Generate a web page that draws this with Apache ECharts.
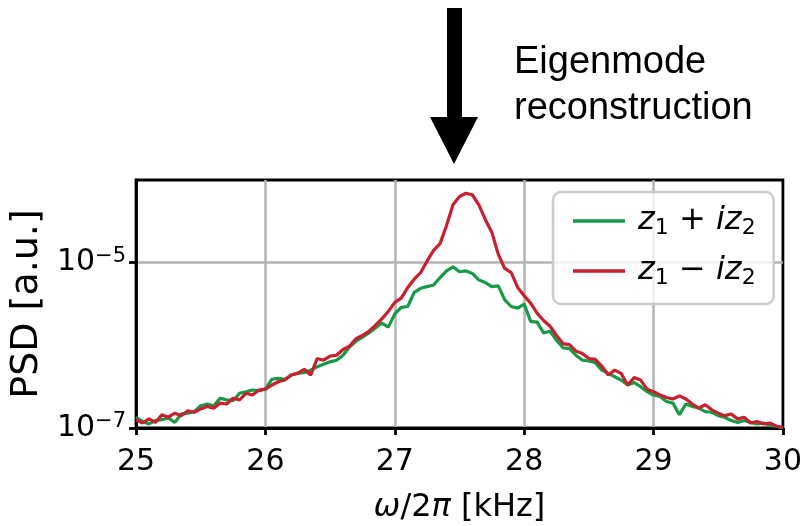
<!DOCTYPE html>
<html>
<head>
<meta charset="utf-8">
<script src="https://cdn.jsdelivr.net/npm/echarts@6/dist/echarts.min.js"></script>
<style>
  html, body { margin: 0; padding: 0; background: #fff; }
  #chart { width: 805px; height: 526px; }
</style>
</head>
<body>
<div id="chart"></div>
<script>
// Frequency sampling (kHz): 25.00 … 30.00 in 0.05 steps
const FREQ_START = 25;
const FREQ_STEP = 0.05;

// PSD values, in units of 1e-7 a.u.
const psdPlus = [
  1.35, 1.20, 1.12, 1.23, 1.26, 1.32, 1.17, 1.48, 1.51, 1.58,
  1.86, 1.95, 1.86, 2.29, 2.19, 2.14, 2.63, 2.75, 2.88, 2.82,
  2.95, 3.89, 3.98, 3.89, 4.37, 4.62, 4.68, 5.01, 5.50, 5.89,
  6.31, 6.61, 7.59, 9.55, 11.2, 12.6, 14.1, 16.2, 18.6, 16.6,
  24.0, 28.8, 29.5, 43.7, 49.0, 51.3, 53.7, 66.1, 79.4, 89.1,
  77.6, 79.4, 74.1, 61.7, 57.5, 51.3, 52.5, 35.5, 29.5, 28.2,
  31.6, 19.5, 19.1, 14.1, 14.8, 11.5, 9.33, 9.12, 7.59, 6.61,
  6.46, 6.17, 5.01, 4.57, 4.17, 3.80, 3.31, 3.55, 3.16, 2.75,
  2.51, 2.40, 2.09, 2.00, 1.45, 1.95, 1.82, 1.74, 1.58, 1.55,
  1.41, 1.35, 1.23, 1.17, 1.23, 1.17, 1.12, 1.15, 1.07, 1.05,
  1.00
];
const psdMinus = [
  1.26, 1.15, 1.29, 1.17, 1.45, 1.35, 1.51, 1.41, 1.62, 1.55,
  1.70, 1.82, 1.74, 2.00, 1.95, 2.29, 2.19, 2.63, 2.51, 2.88,
  2.95, 3.31, 3.63, 3.80, 4.37, 4.57, 5.13, 4.37, 6.92, 6.61,
  7.41, 7.59, 8.91, 9.77, 12.0, 13.2, 14.8, 17.4, 20.9, 25.7,
  33.1, 37.2, 50.1, 63.1, 75.9, 105, 141, 170, 282, 501,
  631, 692, 661, 501, 331, 234, 126, 85.1, 75.9, 50.1,
  39.8, 32.4, 24.5, 20.0, 17.0, 13.2, 10.5, 10.2, 8.51, 7.94,
  6.92, 6.76, 5.62, 4.37, 5.01, 4.57, 3.31, 4.07, 3.80, 2.95,
  2.75, 2.51, 2.34, 2.24, 2.45, 2.24, 1.95, 1.74, 1.91, 1.66,
  1.51, 1.41, 1.48, 1.29, 1.35, 1.15, 1.20, 1.12, 1.15, 1.05,
  1.02
];
const PSD_UNIT = 1e-7;

const seriesNames = ['z1 + iz2', 'z1 - iz2'];
const seriesColors = ['#179a45', '#c9202f'];
const xTicks = [25, 26, 27, 28, 29, 30];
const yTickExponents = [-7, -5];

const toPairs = vals => vals.map((v, i) => [+(FREQ_START + i * FREQ_STEP).toFixed(2), v * PSD_UNIT]);

const FONT = '"DejaVu Sans", sans-serif';
const chart = echarts.init(document.getElementById('chart'), null, { renderer: 'canvas' });

const legendText = {
  'z1 + iz2': '{it|z}{sub|1}{n| + }{it|iz}{sub|2}',
  'z1 - iz2': '{it|z}{sub|1}{n| − }{it|iz}{sub|2}'
};

chart.setOption({
  animation: false,
  backgroundColor: '#fff',
  grid: {
    left: 133, right: 22, top: 180, bottom: 98,
    show: true, borderColor: '#000', borderWidth: 2.8, backgroundColor: 'transparent'
  },
  xAxis: {
    type: 'value',
    min: xTicks[0], max: xTicks[xTicks.length - 1], interval: 1,
    name: '{it|ω}/2{it|π} [kHz]',
    nameLocation: 'middle', nameGap: 64,
    nameTextStyle: {
      fontFamily: FONT, fontSize: 32, color: '#000',
      rich: { it: { fontFamily: FONT, fontStyle: 'italic', fontSize: 32, color: '#000' } }
    },
    axisLine: { show: true, lineStyle: { color: '#000', width: 2.8 } },
    axisTick: { show: true, length: 7, lineStyle: { color: '#000', width: 2.8 } },
    axisLabel: { fontFamily: FONT, fontSize: 30, color: '#000', margin: 19 },
    splitLine: { show: true, showMinLine: false, showMaxLine: false, lineStyle: { color: '#b3b3b3', width: 2.5 } }
  },
  yAxis: {
    type: 'log', logBase: 10,
    min: 1e-7, max: 1e-4, interval: 2,
    name: 'PSD [a.u.]',
    nameLocation: 'middle', nameGap: 84, nameRotate: 90,
    nameTextStyle: { fontFamily: FONT, fontSize: 38, color: '#000' },
    axisLine: { show: true, lineStyle: { color: '#000', width: 2.8 } },
    axisTick: { show: true, length: 7, lineStyle: { color: '#000', width: 2.8 } },
    axisLabel: {
      margin: 10,
      showMaxLabel: false,
      formatter: v => {
        const e = Math.round(Math.log10(v));
        if (Math.abs(Math.log10(v) - e) > 1e-6 || yTickExponents.indexOf(e) < 0) return '';
        return '{b|10}{s|−' + (-e) + '}';
      },
      rich: {
        b: { fontFamily: FONT, fontSize: 30, color: '#000', lineHeight: 34 },
        s: { fontFamily: FONT, fontSize: 21, color: '#000', verticalAlign: 'top', lineHeight: 22 }
      }
    },
    splitLine: { show: true, showMinLine: false, showMaxLine: false, lineStyle: { color: '#b3b3b3', width: 2.5 } }
  },
  legend: {
    data: seriesNames,
    orient: 'vertical',
    left: 553, top: 192,
    padding: [13, 18, 15, 20],
    icon: 'rect',
    itemWidth: 52, itemHeight: 3.5, itemGap: 16,
    backgroundColor: 'rgba(255,255,255,0.8)',
    borderColor: '#cccccc', borderWidth: 2.5, borderRadius: 8,
    formatter: name => legendText[name],
    textStyle: {
      fontFamily: FONT, fontSize: 32, color: '#000', padding: [0, 0, 0, 8],
      rich: {
        it: { fontFamily: FONT, fontStyle: 'italic', fontSize: 32, color: '#000', lineHeight: 36 },
        n: { fontFamily: FONT, fontSize: 32, color: '#000', lineHeight: 36 },
        sub: { fontFamily: FONT, fontSize: 22, color: '#000', lineHeight: 26, verticalAlign: 'bottom' }
      }
    }
  },
  series: [
    {
      name: seriesNames[0], type: 'line', data: toPairs(psdPlus),
      showSymbol: false, symbol: 'none',
      lineStyle: { color: seriesColors[0], width: 3.2 }, itemStyle: { color: seriesColors[0] },
      z: 3
    },
    {
      name: seriesNames[1], type: 'line', data: toPairs(psdMinus),
      showSymbol: false, symbol: 'none',
      lineStyle: { color: seriesColors[1], width: 3.2 }, itemStyle: { color: seriesColors[1] },
      z: 4
    }
  ],
  graphic: [
    {
      type: 'polygon',
      shape: { points: [[447, 8], [462, 8], [462, 117], [478, 117], [454, 164], [430, 117], [447, 117]] },
      style: { fill: '#000' }
    },
    {
      type: 'text', left: 514, top: 40,
      style: {
        text: 'Eigenmode\nreconstruction',
        font: '38px "Liberation Sans", Arial, sans-serif',
        lineHeight: 46, fill: '#000'
      }
    }
  ]
});
</script>
</body>
</html>
